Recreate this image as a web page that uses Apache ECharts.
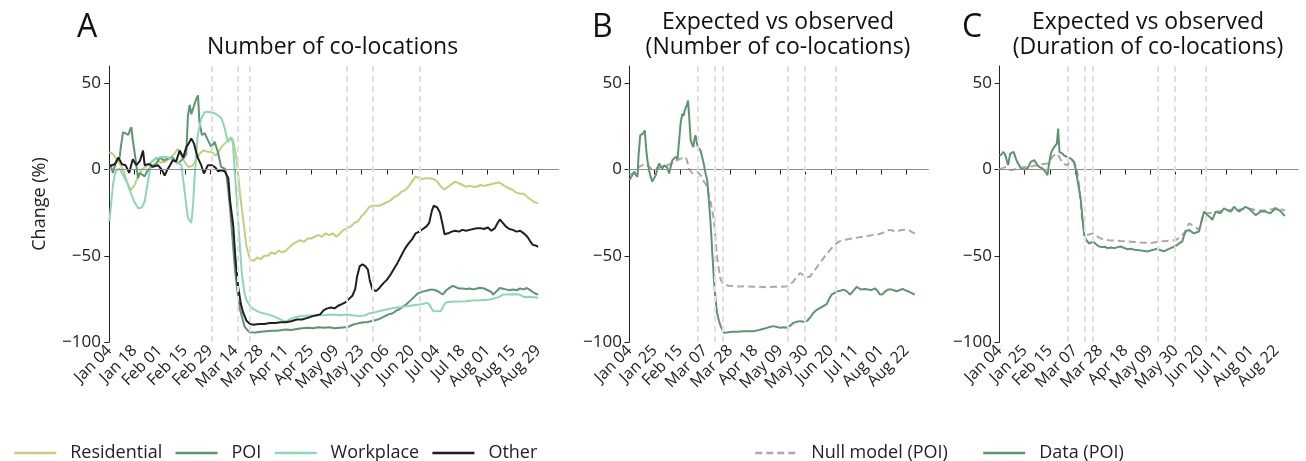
<!DOCTYPE html>
<html>
<head>
<meta charset="utf-8">
<script src="https://cdn.jsdelivr.net/npm/echarts@6/dist/echarts.min.js"></script>
<style>
  html, body { margin: 0; background: #fff; }
  #chart { width: 1306px; height: 461px; }
</style>
</head>
<body>
<div id="chart"></div>
<script>
// days counted from Jan 04 (2020)
const tickDaysA = [0, 14, 28, 42, 56, 70, 84, 98, 112, 126, 140, 154, 168, 182, 196, 210, 224, 238];
const tickLabelsA = ['Jan 04', 'Jan 18', 'Feb 01', 'Feb 15', 'Feb 29', 'Mar 14', 'Mar 28', 'Apr 11', 'Apr 25',
  'May 09', 'May 23', 'Jun 06', 'Jun 20', 'Jul 04', 'Jul 18', 'Aug 01', 'Aug 15', 'Aug 29'];
const tickDaysBC = [0, 21, 42, 63, 84, 105, 126, 147, 168, 189, 210, 231];
const tickLabelsBC = ['Jan 04', 'Jan 25', 'Feb 15', 'Mar 07', 'Mar 28', 'Apr 18', 'May 09', 'May 30',
  'Jun 20', 'Jul 11', 'Aug 01', 'Aug 22'];
const yTicks = [-100, -50, 0, 50];
// policy dates (dashed lines)
const eventDays = [57, 71, 78, 132, 146, 172];

// panel A: [day, change %]
const residential = [[0,10],[2,9],[4,6],[6,3],[8,-1],[10,-8],[12,-12],[14,-9],[16,-4],[18,0],[20,1.5],[23,4],[26,7],[28,4],[31,4.5],[34,7],[36,9],[38,12],[40,8],[42,4],[44,1.5],[46,2],[48,5],[50,9],[52,11],[54,10.5],[57,10],[59,8],[61,11],[63,14],[65,16],[67,18],[68.6,17],[70,10],[71,3],[72.5,-14],[74.3,-29],[76,-44],[78,-52],[80,-53],[82,-51],[84,-52],[86,-50],[88,-50],[90,-48],[92,-49],[94,-47],[96,-48],[98,-47],[100,-45],[102,-43],[104,-42],[106,-41],[108,-42],[110,-40],[112,-40],[114,-39],[116,-38],[118,-39],[120,-37],[122,-38],[124,-37],[126,-39],[128,-37],[130,-35],[132,-34],[134,-33],[136,-31],[138,-30],[140,-27],[142,-25],[144,-22],[146,-21],[148,-21],[150,-21],[152,-20],[154,-19],[156,-18],[158,-16],[160,-15],[162,-13],[164,-12],[166,-10],[168,-7],[170,-4],[172,-5],[174,-5.5],[176,-5],[178,-5.2],[180,-5.5],[182,-7],[184,-10],[186,-11.5],[188,-10],[190,-8.5],[192,-7],[194,-8],[196,-9],[198,-10],[200,-9.5],[202,-10],[204,-10],[206,-9],[208,-9.5],[210,-9],[212,-8.5],[214,-8],[216,-7.5],[218,-8.5],[220,-10],[222,-11],[224,-12],[226,-13.5],[228,-14],[230,-14],[232,-16],[234,-17.5],[236,-19],[238,-19.5]];
const poi = [[0,3],[1,1.5],[2,-2],[3,2],[4,4.5],[5.7,7],[6.5,14],[7.6,21.5],[9,21],[10.5,20],[11.5,23],[12.2,24.6],[13,17],[14,10],[15,2.5],[15.9,-5],[17,-2],[18,-1.5],[19.6,-4],[21,-1],[23,1.5],[26,3.4],[28,7],[30,5.4],[32.5,6.3],[35,7],[38,3.4],[41,6.3],[42.7,9],[43.6,31],[44.6,37.5],[45.5,32],[47.3,38],[48.3,41],[49.2,43],[50,27.5],[51.4,20],[52.9,21],[54.7,17],[56.6,13],[58.4,16],[60.3,10],[62,1.5],[64,0.5],[65,-3],[66,-12],[67,-23],[68.5,-42],[69.7,-58],[71,-70],[72.5,-81],[74,-87],[75,-91],[76.5,-93],[78,-94.3],[81,-94.5],[84,-94],[87,-93.7],[90,-93.5],[93,-93.5],[96,-93],[98,-92.7],[101,-93],[104,-92.5],[107,-92],[110,-91.7],[113,-92],[116,-91.5],[119,-91.7],[122,-91.5],[125,-92],[128,-91.7],[131,-91.5],[133,-91],[135,-90],[137,-89.5],[139,-89],[141,-88.5],[143,-88.5],[145,-88],[147,-87.5],[149,-87],[151,-86],[153,-85],[155,-84],[157,-83.5],[159,-82],[161,-81],[163,-79.5],[165,-78],[167,-76],[169,-74],[171,-72],[173,-71],[175,-70.5],[177,-70],[179,-69.5],[181,-70],[183,-71],[185,-72.5],[187,-70],[189,-68.5],[190.5,-67.5],[192,-68],[194,-69],[196,-69],[198,-69.3],[200,-69],[202,-69.5],[204,-69],[206,-68.5],[208,-69],[210,-70],[212,-71],[213,-72.5],[215,-70.5],[216.7,-68.7],[218,-69],[220,-69.5],[222,-70],[224,-69.6],[226,-70],[228,-69],[230,-69.5],[231.6,-68.7],[233,-69.5],[235,-71],[236.5,-72],[238,-72.5]];
const workplace = [[0,-30],[1,-20],[2,-9],[3,-3],[4,-0.4],[5.7,0.5],[7,-2],[8.5,-5],[10,-8],[12,-14],[14,-19],[16,-22.5],[18,-22],[19.6,-18.7],[21.4,-7],[23.3,4.4],[26,6.3],[28.8,7.3],[31,7.3],[33,7],[35.3,5.4],[38,4],[40,2.5],[41.8,-13],[43.6,-28],[45.5,-31],[46.5,-20],[47.3,-5],[48.2,8],[49,19.8],[51,29.4],[52.9,33.2],[54.7,33.5],[56.6,33.2],[58.5,32.5],[60.3,31.3],[62,30],[63,27.5],[64,24],[64.9,19.8],[66,16],[66.7,17],[67.7,18.8],[68.6,15],[69.5,0.6],[70.5,-14],[71.4,-28],[72.5,-45],[73.5,-60],[75,-71.5],[76,-75.4],[78,-79],[80,-81],[81.7,-82],[84,-83],[86,-83.5],[88,-84],[91,-85],[94,-86.5],[96,-87.5],[98.4,-87.9],[100,-87],[102,-86],[104,-85.4],[107,-85],[111,-84.6],[115,-84.5],[120,-84.3],[124,-84],[128,-84.5],[132,-84],[135,-84.5],[139,-85],[142,-84.5],[144,-83.5],[146.4,-83.1],[150,-82],[153.8,-81.2],[157,-80.5],[160,-80],[165,-79.3],[170,-78.5],[174,-78],[176,-77.3],[177.5,-78],[178.5,-80],[179.7,-82],[182,-82.2],[184,-82],[185.5,-79],[187,-76.9],[190,-76.7],[194,-76.5],[198,-76.4],[202,-76],[206,-75.8],[210,-75.5],[213,-75],[216,-74],[218.5,-72.5],[222,-72.5],[225,-72.3],[227.8,-72.5],[230,-73.9],[233,-73.7],[236,-74],[238,-74.4]];
const other = [[0,2],[1,1.5],[3,3],[5,7],[7,3],[9,2.5],[11,-2],[13,6],[15,2.5],[17,5],[18.7,11],[19.6,2.5],[21,3],[22.4,3],[24,1.5],[27,2.5],[29,0],[30.7,-3.5],[32,-0.5],[34,3],[35.3,5.5],[37,4.5],[39,11],[41,7],[42.7,13],[44,15],[45.5,18],[47,15],[49,7],[51,2.5],[52.5,-2.3],[54.7,2.5],[57,2.5],[59,1],[60.3,-1],[62,-0.5],[64,-1],[65,-1.5],[66,-5],[67,-18],[68.8,-33],[70,-52],[71.5,-68],[73,-78],[74.3,-83],[76,-87.5],[78,-89.5],[80,-90],[83,-89.5],[86,-89.5],[89,-89],[92,-89],[95,-88.5],[98,-88.5],[101,-88],[104,-87],[107,-87],[110,-86],[113,-85],[115,-84.5],[117,-84],[119,-81.5],[121,-80.5],[123,-80],[125,-80.5],[127,-79],[129,-78],[131,-77],[133,-75],[135,-73],[136.5,-69],[137.5,-62],[139,-56],[140.5,-55],[142,-56],[143.5,-58],[144.5,-64],[146,-69.5],[148,-70.5],[150,-68.5],[152,-66],[154,-64],[156,-61],[158,-57.5],[160,-54],[162,-50],[164,-46],[166,-43],[168,-40.5],[170,-37],[172,-36],[174,-34.5],[176,-33],[177.5,-31],[179,-24],[180,-21],[182,-22],[183.5,-25],[185,-32],[186,-37.5],[188,-37],[190,-36],[192,-35.5],[194,-36],[196,-35],[198,-35.5],[200,-35],[202,-34.5],[204,-34],[206,-34],[208,-34.5],[210,-33.5],[212,-35.5],[214,-34],[215.5,-31],[216.7,-29],[218,-30.5],[220,-33],[222,-34.5],[224,-35],[226,-36],[228,-35.5],[230,-37],[232,-39],[233.5,-41.5],[235,-43.7],[236.5,-44],[238,-44.8]];

// panel B: number of co-locations, POI
const nullNumber = [[0,-3],[2,-2.5],[3.9,-2.3],[6,0],[8,1.5],[10.8,2.5],[12,3],[13.6,3.5],[15.5,2],[17.7,0.6],[20,0.5],[22,1],[24,0.6],[26,1.5],[28,1.8],[31.6,2.5],[34,3.2],[37,4.4],[40,5.5],[42.7,6.3],[44.5,6.8],[46.8,7.3],[48,5],[49.6,0.6],[51,-1],[52.4,-2.3],[54.5,-1.5],[56.5,-1.3],[58,-2],[59.3,-3.3],[60.7,-5],[62,-7],[64,-9],[66,-13.9],[68,-20],[70.4,-29.2],[71.7,-40],[73,-50.4],[74.5,-58],[76,-63.9],[77.5,-65.5],[78.7,-66.7],[82,-67.2],[87,-67.7],[92,-67.8],[98,-67.7],[103,-68],[109,-68],[114,-68.2],[120,-68],[125,-68],[131.3,-67.7],[134,-66.5],[136.8,-64.8],[139.5,-62],[142.4,-60],[144.5,-61],[146.5,-62],[148.5,-62.5],[150.7,-62],[153,-59.5],[156,-57],[159,-54],[161.8,-51.4],[164.5,-49],[167.3,-46.6],[170,-44.5],[172.9,-42.7],[175.5,-41.5],[178.4,-40.8],[182,-40.5],[186.7,-39.8],[190,-39.5],[195,-38.9],[199,-38.5],[203.3,-37.9],[208,-37.5],[212,-36.5],[217,-35],[220,-35.5],[222.7,-36],[226,-35.2],[231,-34.6],[234,-35.5],[236,-36.5],[238,-37]];
const dataNumber = [[0,-6],[1,-6],[2.5,-3],[3.9,-1.3],[5,-3],[6.6,-4.2],[7.5,8],[8.9,19.8],[10.5,20],[11.5,21],[12.7,22.7],[14,11],[15,5],[16.3,-0.4],[17.5,-4],[19,-7],[20.5,-5],[21.9,-3.3],[23,0],[24.6,3.5],[26,2],[27.4,0.6],[29,2.5],[30.2,3.5],[31.5,1],[33,-2.3],[34.5,2],[35.7,5.4],[37,6.5],[38.5,7.3],[40,6],[41.3,6.3],[42.7,27.5],[44,32.3],[45,31],[46,34.2],[47.6,37],[48.8,40],[49.5,33],[51,16.9],[52,15],[53.2,13],[54,17],[55,19.8],[56,16],[57,13],[58,12],[59.3,11],[60.3,8],[61.2,5.4],[62.3,2],[63.4,-2.3],[64.8,-6.2],[66.2,-18],[67.6,-31],[69,-48],[70.4,-64],[71.7,-75],[73,-83],[74.5,-87.5],[76,-90.8],[77.5,-93],[78.7,-94.6],[81,-94.5],[84,-94.2],[87,-94],[90,-94],[95,-93.7],[99,-93.8],[103.6,-93.7],[108,-93],[112,-92.3],[116,-91.5],[120,-90.8],[123,-91.3],[125.8,-91.7],[128.5,-91.5],[131,-91.7],[134,-90.5],[136.8,-88.9],[139.5,-88.3],[142.4,-87.9],[145,-88.2],[148,-87.9],[151,-85.5],[153.5,-83],[156,-81.5],[159,-80.2],[162,-79],[164.5,-78],[166.5,-75],[168.7,-72.5],[171,-71.5],[172.9,-70.6],[175,-70.5],[178.4,-69.6],[181,-70.5],[184,-72.5],[186.5,-70.5],[189.5,-68],[191.5,-69],[193.6,-69.6],[196,-69.3],[199,-69.6],[202,-69.8],[205,-69],[207,-70.5],[208.9,-72.5],[211,-72.3],[213.5,-70.5],[215.8,-69.6],[219,-69.6],[222.7,-70.6],[225,-70],[228,-69.2],[230,-70],[232.4,-70.6],[235,-71.5],[238,-72.5]];

// panel C: duration of co-locations, POI
const nullDuration = [[0,0],[2.5,0.8],[5.3,1.5],[7,0.5],[9.4,-0.4],[12,0],[15,0.6],[18,1],[20.6,1.5],[24,1.5],[28,2],[31.7,2.5],[35,3],[40,3.5],[42,5],[44,7.3],[46,8.5],[48.3,9.2],[50,7],[52.5,3.5],[54.5,3],[56.7,2.5],[58,4],[59.4,5.4],[60.8,5],[62.2,4.4],[63.5,2],[65,-2.3],[66.5,-10],[67.8,-20],[69,-31.2],[71,-35.5],[73.3,-37.9],[75.5,-37.5],[77.5,-37],[79.5,-38],[81.7,-38.9],[84.5,-40],[87.2,-40.8],[91,-41],[95.6,-41.2],[101,-41.5],[106.7,-41.7],[112,-42],[117.8,-42.3],[122,-42.5],[126,-42.7],[130,-42.2],[134.4,-41.7],[138.5,-41.5],[142.8,-41.2],[145.5,-41],[148.3,-40.4],[151,-39],[153.9,-37],[156,-34],[158,-31.2],[160,-32],[162.2,-33],[164.5,-34],[166.4,-35],[168.5,-30],[170.6,-25.4],[174,-25.4],[177.5,-25],[181.7,-24.4],[186,-24],[190,-23.5],[194,-23.7],[198,-23.5],[202,-23],[206.7,-22.5],[211,-23],[215,-23.9],[219,-23.7],[223.3,-23.5],[227,-23],[230.3,-22.5],[234,-23],[237.2,-23.5],[238,-24]];
const dataDuration = [[0,8],[1.1,8.3],[2,9],[3.3,10.2],[4.3,9],[5.3,7.3],[6.3,4.5],[7.2,2.5],[8,6],[8.9,9.2],[10.3,9.5],[11.7,10.2],[12.6,8.5],[13.6,6.3],[15,4],[16.4,2.5],[18,0.5],[19.2,-0.4],[21,0],[23.3,0.6],[24.7,2.5],[26,4.4],[27.5,4.5],[28.9,5.4],[30.3,4],[31.7,2.5],[33.8,1.2],[35.8,0.6],[38,-1],[40,-3.3],[41,2],[42.8,9.2],[44.2,11.5],[45.6,13],[47,14],[47.8,15],[48.9,23.7],[49.5,16],[50,10.2],[51.3,9.5],[52.5,9.2],[54,8],[55.3,7.3],[57,7],[58.5,7.3],[59.7,6.2],[60.8,5.4],[62,4.5],[62.8,3.5],[64,-1],[65,-6.2],[66.5,-12],[67.8,-17.7],[69.2,-28],[70.6,-37.9],[72,-40.5],[73.3,-41.7],[74.7,-43],[76.1,-42.7],[78,-41.7],[80,-43],[83,-44.6],[86,-45],[88,-44.8],[90,-45.6],[93,-45.2],[96,-45.6],[98.5,-45],[101,-44.6],[104,-45.5],[106.7,-46.2],[110,-46],[112.5,-46.5],[115,-46.6],[118,-47],[121,-47.2],[123.3,-47.5],[126,-47],[128.5,-46.5],[131.7,-46],[134.5,-46.8],[137.2,-47.5],[140,-46.5],[142.8,-45.6],[145.5,-44.8],[148.3,-43.7],[150.5,-42.5],[152.5,-41.7],[154,-38],[155.3,-36],[158,-35],[160,-36],[162.2,-37],[164,-36.5],[166.4,-36],[168.5,-30],[170.6,-24.4],[173.3,-26.4],[175.5,-27.5],[177.5,-29.2],[180.3,-24.4],[182.5,-25],[184.4,-25.4],[187.2,-22.5],[190,-23.5],[192.8,-24.4],[195.6,-21.6],[197.5,-23],[199.7,-24.4],[202.5,-23],[205.3,-21.6],[207.5,-22.5],[209.4,-23.5],[211.5,-25],[213.6,-26.4],[215.7,-25.5],[217.8,-24.4],[220,-24.4],[222,-24.4],[224,-25],[226,-25.4],[228,-24],[230.3,-22.5],[231.7,-23],[233,-23.5],[235,-24.5],[237.2,-26.4],[238,-27]];

const FONT = '"Open Sans", sans-serif';
const INK = '#222';

const chart = echarts.init(document.getElementById('chart'));

function xAxisFor(gridIndex, days, labels) {
  return {
    type: 'value', gridIndex, min: -1.3, max: 249,
    splitLine: { show: false },
    axisLine: { lineStyle: { color: INK, width: 1 } },
    axisTick: { customValues: days, length: 5, lineStyle: { color: INK } },
    axisLabel: {
      customValues: days, rotate: 45, margin: 6,
      color: INK, fontSize: 16, fontFamily: FONT,
      formatter: v => labels[days.indexOf(v)]
    }
  };
}

function yAxisFor(gridIndex, name) {
  return {
    type: 'value', gridIndex, min: -100, max: 60,
    name: name || '', nameLocation: 'middle', nameGap: 58,
    nameTextStyle: { fontSize: 18, color: INK, fontFamily: FONT },
    splitLine: { show: false },
    axisLine: { show: true, lineStyle: { color: INK, width: 1 } },
    axisTick: { show: true, customValues: yTicks, length: 5, lineStyle: { color: INK } },
    axisLabel: {
      customValues: yTicks, color: INK, fontSize: 17, fontFamily: FONT, margin: 6,
      formatter: v => String(v).replace('-', '\u2212')
    }
  };
}

// zero line + dashed event lines, drawn under the data
function refSeries(idx) {
  return {
    type: 'line', xAxisIndex: idx, yAxisIndex: idx, data: [], z: 1, silent: true,
    markLine: {
      silent: true, symbol: ['none', 'none'], label: { show: false }, animation: false,
      data: [
        { yAxis: 0, lineStyle: { color: '#8c8c8c', width: 1, type: 'solid' } },
        ...eventDays.map(d => ({ xAxis: d, lineStyle: { color: '#e0e0e0', width: 2, type: [6, 4] } }))
      ]
    }
  };
}

function line(name, idx, data, color, dashed) {
  return {
    name, type: 'line', xAxisIndex: idx, yAxisIndex: idx, data, z: 3,
    symbol: 'none', smooth: false,
    lineStyle: { color, width: 2, type: dashed ? [7, 4] : 'solid' },
    itemStyle: { color }
  };
}

const legendText = { fontSize: 18, color: INK, fontFamily: FONT, padding: [0, 0, 0, 9] };

const option = {
  animation: false,
  grid: [
    { left: 107, top: 66, width: 451, height: 276 },
    { left: 628, top: 66, width: 300, height: 276 },
    { left: 998, top: 66, width: 300, height: 276 }
  ],
  xAxis: [
    xAxisFor(0, tickDaysA, tickLabelsA),
    xAxisFor(1, tickDaysBC, tickLabelsBC),
    xAxisFor(2, tickDaysBC, tickLabelsBC)
  ],
  yAxis: [yAxisFor(0, 'Change (%)'), yAxisFor(1), yAxisFor(2)],
  legend: [
    {
      left: 8, top: 439, itemWidth: 42, itemHeight: 16, itemGap: 12,
      itemStyle: { opacity: 0 }, lineStyle: { width: 2.5 },
      data: ['Residential', 'POI', 'Workplace', 'Other'], textStyle: legendText
    },
    {
      left: 749, top: 439, itemWidth: 42, itemHeight: 16, itemGap: 34,
      itemStyle: { opacity: 0 }, lineStyle: { width: 2.5 },
      data: ['Null model (POI)', 'Data (POI)'], textStyle: legendText
    }
  ],
  graphic: [
    { type: 'text', x: 77, y: 28, style: { text: 'A', font: '32px ' + FONT, fill: '#111', verticalAlign: 'middle' } },
    { type: 'text', x: 592, y: 28, style: { text: 'B', font: '32px ' + FONT, fill: '#111', verticalAlign: 'middle' } },
    { type: 'text', x: 962, y: 28, style: { text: 'C', font: '32px ' + FONT, fill: '#111', verticalAlign: 'middle' } },
    { type: 'text', x: 332.5, y: 47, style: { text: 'Number of co-locations', font: '23px ' + FONT, fill: '#111', align: 'center', verticalAlign: 'middle' } },
    { type: 'text', x: 778, y: 22, style: { text: 'Expected vs observed', font: '23px ' + FONT, fill: '#111', align: 'center', verticalAlign: 'middle' } },
    { type: 'text', x: 778, y: 47, style: { text: '(Number of co-locations)', font: '23px ' + FONT, fill: '#111', align: 'center', verticalAlign: 'middle' } },
    { type: 'text', x: 1148, y: 22, style: { text: 'Expected vs observed', font: '23px ' + FONT, fill: '#111', align: 'center', verticalAlign: 'middle' } },
    { type: 'text', x: 1148, y: 47, style: { text: '(Duration of co-locations)', font: '23px ' + FONT, fill: '#111', align: 'center', verticalAlign: 'middle' } }
  ],
  series: [
    refSeries(0), refSeries(1), refSeries(2),
    line('Residential', 0, residential, '#bfd07e'),
    line('POI', 0, poi, '#5e9470'),
    line('Workplace', 0, workplace, '#8ed5b9'),
    line('Other', 0, other, '#1f1f1f'),
    line('Null model (POI)', 1, nullNumber, '#a9a9a9', true),
    line('Data (POI)', 1, dataNumber, '#5e9470'),
    line('Null model (POI)', 2, nullDuration, '#a9a9a9', true),
    line('Data (POI)', 2, dataDuration, '#5e9470')
  ]
};

chart.setOption(option);
</script>
</body>
</html>
